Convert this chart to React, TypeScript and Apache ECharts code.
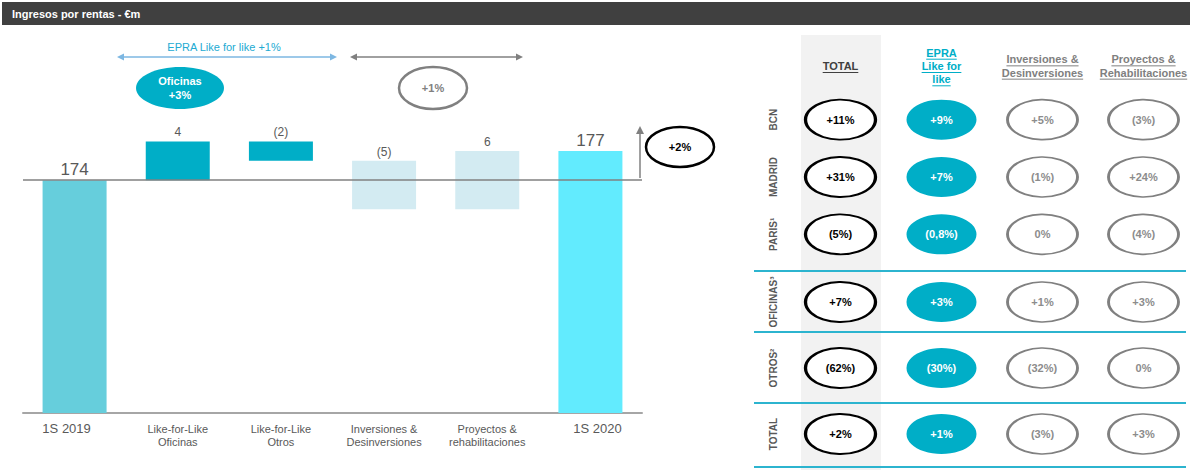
import React, { useEffect, useRef } from 'react';
import * as echarts from 'echarts';

// ---------- Data ----------
const categories = [
  '1S 2019',
  'Like-for-Like\nOficinas',
  'Like-for-Like\nOtros',
  'Inversiones &\nDesinversiones',
  'Proyectos &\nrehabilitaciones',
  '1S 2020',
];
const startValue = 174;
const deltas = [4, -2, -5, 6];
const endValue = 177;

const tableColumns = ['TOTAL', 'EPRA\nLike for\nlike', 'Inversiones &\nDesinversiones', 'Proyectos &\nRehabilitaciones'];
const tableRowsTop = ['BCN', 'MADRID', 'PARIS¹'];
const tableRowsBottom = ['OFICINAS³', 'OTROS²', 'TOTAL'];
const totalValues = ['+11%', '+31%', '(5%)', '+7%', '(62%)', '+2%'];
const lflValues = ['+9%', '+7%', '(0,8%)', '+3%', '(30%)', '+1%'];
const invValues = ['+5%', '(1%)', '0%', '+1%', '(32%)', '(3%)'];
const proyValues = ['(3%)', '+24%', '(4%)', '+3%', '0%', '+3%'];

// ---------- Styles ----------
const FONT = '"Liberation Sans", Arial, Helvetica, sans-serif';
const barColors = ['#66CEDC', '#00AEC7', '#00AEC7', '#D3EBF2', '#D3EBF2', '#62EBFE'];
const TEAL = '#00AEC7';
const GRAY = '#808080';
const TXT = '#595959';

function measure(text: string, font: string): number {
  const c = document.createElement('canvas').getContext('2d');
  if (!c) return text.length * 6;
  c.font = font;
  return c.measureText(text).width;
}

export default function App() {
  const ref = useRef<HTMLDivElement>(null);

  useEffect(() => {
    document.body.style.margin = '0';
    const el = ref.current;
    if (!el) return;
    const chart = echarts.init(el, null, { renderer: 'svg' });

    // waterfall computation
    const baseValues: number[] = [0];
    const barValues: number[] = [startValue];
    let running = startValue;
    deltas.forEach((d) => {
      const next = running + d;
      baseValues.push(Math.min(running, next));
      barValues.push(Math.abs(d));
      running = next;
    });
    baseValues.push(0);
    barValues.push(endValue);
    const barLabels = [
      String(startValue),
      ...deltas.map((d) => (d < 0 ? `(${-d})` : String(d))),
      String(endValue),
    ];

    // table layout
    const tLeft = 790;
    const tColW = 101;
    const colX = (i: number) => tLeft + tColW * (i + 0.5);
    const colStyle = [
      { fill: '#ffffff', stroke: '#000000', lw: 2.5, text: '#000000' },
      { fill: TEAL, stroke: TEAL, lw: 0, text: '#ffffff' },
      { fill: '#ffffff', stroke: GRAY, lw: 2.2, text: '#8C8C8C' },
      { fill: '#ffffff', stroke: GRAY, lw: 2.2, text: '#8C8C8C' },
    ];
    const colsData = [totalValues, lflValues, invValues, proyValues];
    const cellData = (rowOffset: number) => {
      const out: any[] = [];
      for (let r = 0; r < 3; r++) {
        for (let c = 0; c < 4; c++) {
          const s = colStyle[c];
          out.push({
            value: [c, r],
            name: colsData[c][r + rowOffset],
            itemStyle: { color: s.fill, borderColor: s.stroke, borderWidth: s.lw, opacity: 1 },
            label: { color: s.text },
          });
        }
      }
      return out;
    };

    const headerColors = ['#404040', TEAL, GRAY, GRAY];
    const headerFont = `bold 11px ${FONT}`;
    const headerGraphics: any[] = [];
    tableColumns.forEach((h, i) => {
      const lines = h.split('\n');
      const n = lines.length;
      lines.forEach((ln, j) => {
        const y = 66 + (j - (n - 1) / 2) * 13.3;
        const w = measure(ln, headerFont);
        headerGraphics.push({
          type: 'text',
          x: colX(i),
          y,
          style: {
            text: ln,
            fill: headerColors[i],
            font: headerFont,
            align: 'center',
            verticalAlign: 'middle',
          },
        });
        headerGraphics.push({
          type: 'line',
          shape: { x1: colX(i) - w / 2, y1: y + 6.5, x2: colX(i) + w / 2, y2: y + 6.5 },
          style: { stroke: headerColors[i], lineWidth: 1 },
        });
      });
    });

    const sepYs = [271, 332, 403, 467];
    const sepGraphics = sepYs.map((y) => ({
      type: 'line',
      shape: { x1: 754, y1: y, x2: 1186, y2: y },
      style: { stroke: '#2CB4CF', lineWidth: 2 },
    }));

    const arrow = (x1: number, x2: number, y: number, color: string) => [
      { type: 'line', shape: { x1: x1 + 3, y1: y, x2: x2 - 3, y2: y }, style: { stroke: color, lineWidth: 1.3 } },
      { type: 'polygon', shape: { points: [[x1, y], [x1 + 7, y - 3.5], [x1 + 7, y + 3.5]] }, style: { fill: color } },
      { type: 'polygon', shape: { points: [[x2, y], [x2 - 7, y - 3.5], [x2 - 7, y + 3.5]] }, style: { fill: color } },
    ];

    const boldFont = `bold 11px ${FONT}`;
    const rowAxisLabel = {
      rotate: 90,
      margin: 12,
      interval: 0,
      hideOverlap: false,
      color: TXT,
      fontSize: 10,
      fontWeight: 'bold',
    };

    const option: any = {
      animation: false,
      textStyle: { fontFamily: FONT },
      grid: [
        { left: 23, width: 619, top: 122, height: 291 },
        { left: tLeft, width: tColW * 4, top: 91, height: 172 },
        { left: tLeft, width: tColW * 4, top: 269, height: 198 },
      ],
      xAxis: [
        {
          type: 'category',
          gridIndex: 0,
          data: categories,
          axisLine: { lineStyle: { color: '#A6A6A6', width: 2 } },
          axisTick: { show: false },
          axisLabel: {
            color: TXT,
            fontSize: 11,
            lineHeight: 13,
            margin: 9,
            interval: 0,
            formatter: (v: string, i: number) =>
              i === 0 ? `{first|${v}}` : i === categories.length - 1 ? `{last|${v}}` : v,
            rich: {
              first: { fontSize: 13, color: TXT, padding: [0, 16, 0, 0] },
              last: { fontSize: 13, color: TXT, padding: [0, 0, 0, 14] },
            },
          },
        },
        { type: 'category', gridIndex: 1, data: tableColumns, show: false },
        { type: 'category', gridIndex: 2, data: tableColumns, show: false },
      ],
      yAxis: [
        { type: 'value', gridIndex: 0, min: 150, max: 180, show: false },
        {
          type: 'category',
          gridIndex: 1,
          data: tableRowsTop,
          inverse: true,
          axisLine: { show: false },
          axisTick: { show: false },
          splitLine: { show: false },
          axisLabel: rowAxisLabel,
        },
        {
          type: 'category',
          gridIndex: 2,
          data: tableRowsBottom,
          inverse: true,
          axisLine: { show: false },
          axisTick: { show: false },
          splitLine: { show: false },
          axisLabel: rowAxisLabel,
        },
      ],
      series: [
        {
          type: 'bar',
          name: 'base',
          xAxisIndex: 0,
          yAxisIndex: 0,
          stack: 'wf',
          barWidth: 64,
          silent: true,
          itemStyle: { color: 'transparent' },
          data: baseValues,
        },
        {
          type: 'bar',
          name: 'value',
          xAxisIndex: 0,
          yAxisIndex: 0,
          stack: 'wf',
          barWidth: 64,
          data: barValues.map((v, i) => ({
            value: v,
            itemStyle: { color: barColors[i] },
            label: {
              fontSize: i === 0 || i === barValues.length - 1 ? 17 : 12,
              distance: i === 0 || i === barValues.length - 1 ? 2 : 3,
            },
          })),
          label: {
            show: true,
            position: 'top',
            color: TXT,
            formatter: (p: any) => barLabels[p.dataIndex],
          },
          markLine: {
            silent: true,
            symbol: 'none',
            label: { show: false },
            lineStyle: { color: GRAY, width: 1.5, type: 'solid' },
            data: [{ yAxis: startValue }],
          },
        },
        {
          type: 'scatter',
          xAxisIndex: 1,
          yAxisIndex: 1,
          symbol: 'circle',
          symbolSize: [70, 40],
          itemStyle: { opacity: 1 },
          data: cellData(0),
          label: { show: true, position: 'inside', formatter: '{b}', fontSize: 11, fontWeight: 'bold' },
        },
        {
          type: 'scatter',
          xAxisIndex: 2,
          yAxisIndex: 2,
          symbol: 'circle',
          symbolSize: [70, 40],
          itemStyle: { opacity: 1 },
          data: cellData(3),
          label: { show: true, position: 'inside', formatter: '{b}', fontSize: 11, fontWeight: 'bold' },
        },
      ],
      graphic: [
        // table gray column background
        { type: 'rect', z: -10, shape: { x: 801, y: 35, width: 80, height: 435 }, style: { fill: '#F2F2F2' } },
        // header bar
        { type: 'rect', shape: { x: 2, y: 2, width: 1188, height: 23 }, style: { fill: '#404040' } },
        {
          type: 'text',
          x: 12,
          y: 14,
          style: { text: 'Ingresos por rentas - €m', fill: '#ffffff', font: boldFont, verticalAlign: 'middle' },
        },
        ...headerGraphics,
        ...sepGraphics,
        // top annotations
        {
          type: 'text',
          x: 224,
          y: 47,
          style: { text: 'EPRA Like for like +1%', fill: '#22AAD2', font: `11px ${FONT}`, align: 'center', verticalAlign: 'middle' },
        },
        ...arrow(117, 337, 57, '#7DB7E2'),
        ...arrow(350, 523, 57, GRAY),
        { type: 'ellipse', shape: { cx: 180, cy: 88, rx: 44, ry: 21 }, style: { fill: TEAL } },
        {
          type: 'text',
          x: 180,
          y: 88,
          style: { text: 'Oficinas\n+3%', fill: '#ffffff', font: boldFont, lineHeight: 14, align: 'center', verticalAlign: 'middle' },
        },
        { type: 'ellipse', shape: { cx: 433, cy: 88, rx: 34, ry: 21 }, style: { fill: 'none', stroke: GRAY, lineWidth: 2.5 } },
        {
          type: 'text',
          x: 433,
          y: 88,
          style: { text: '+1%', fill: GRAY, font: boldFont, align: 'center', verticalAlign: 'middle' },
        },
        // up arrow and +2%
        { type: 'line', shape: { x1: 640, y1: 178, x2: 640, y2: 132 }, style: { stroke: GRAY, lineWidth: 1.5 } },
        { type: 'polygon', shape: { points: [[640, 126], [636, 134], [644, 134]] }, style: { fill: GRAY } },
        { type: 'ellipse', shape: { cx: 680, cy: 147, rx: 34, ry: 20 }, style: { fill: '#ffffff', stroke: '#000000', lineWidth: 2.5 } },
        {
          type: 'text',
          x: 680,
          y: 147,
          style: { text: '+2%', fill: '#000000', font: boldFont, align: 'center', verticalAlign: 'middle' },
        },
      ],
    };

    chart.setOption(option);
    return () => chart.dispose();
  }, []);

  return <div ref={ref} style={{ width: 1195, height: 470 }} />;
}
